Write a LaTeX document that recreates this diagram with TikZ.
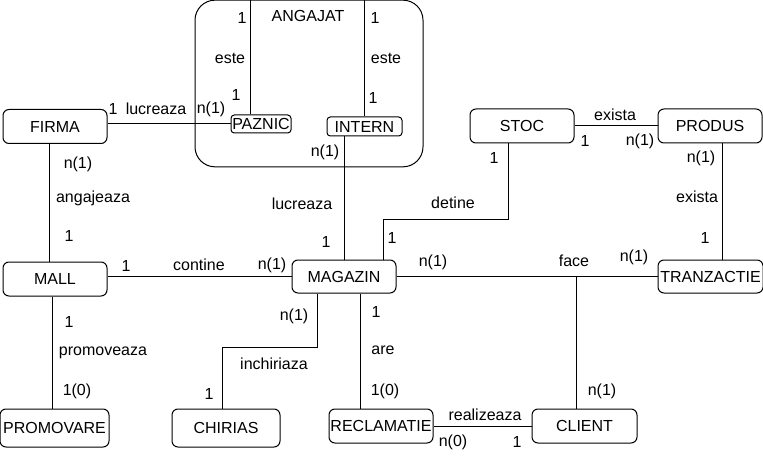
\documentclass[tikz,border=0pt]{standalone}
\usepackage{fontspec}
\setmainfont{Liberation Sans}
\usepackage{tikz}
\usetikzlibrary{calc}
\tikzset{every picture/.style={line width=0.75pt}}
\tikzset{
  ent/.style={draw, rounded corners=4.5pt, inner sep=0pt, minimum width=78pt, minimum height=25.5pt, font=\fontsize{12}{14}\selectfont},
  sub/.style={draw, rounded corners=2.5pt, inner sep=0pt, font=\fontsize{12}{14}\selectfont},
  lbl/.style={inner sep=0.75pt, font=\fontsize{12}{14}\selectfont}
}

\begin{document}
\begin{tikzpicture}[x=0.75pt,y=0.75pt,yscale=-1,xscale=1]
\useasboundingbox (0,0) rectangle (763,456);

%Rounded Rect (ANGAJAT)
\node [draw, rounded corners=15pt, minimum width=171pt, minimum height=125pt] (angajat) at (309,83.5) {};
\node [sub, minimum width=45pt, minimum height=13.5pt] (paznic) at (261,124) {PAZNIC};
\node [sub, minimum width=56.25pt, minimum height=14.25pt] (intern) at (364.5,126.5) {INTERN};

%Rounded Rect
\node [ent] (firma) at (55,126.5) {FIRMA};
\node [ent] (stoc) at (522,126) {STOC};
\node [ent] (produs) at (710,126) {PRODUS};
\node [ent] (mall) at (55,279) {MALL};
\node [ent, minimum height=24.75pt] (magazin) at (344,276.5) {MAGAZIN};
\node [ent, minimum width=78.75pt, minimum height=24.75pt] (tranzactie) at (710.5,276.5) {TRANZACTIE};
\node [ent, minimum width=81.75pt, minimum height=28.5pt] (promovare) at (54.5,428) {PROMOVARE};
\node [ent, minimum width=81pt, minimum height=28.5pt] (chirias) at (226,428) {CHIRIAS};
\node [ent] (reclamatie) at (381,426) {RECLAMATIE};
\node [ent, minimum width=78.75pt] (client) at (584.5,426) {CLIENT};

\coordinate (detine) at (383,219);
\coordinate (inchir) at (222,347);
\coordinate (face) at ([xshift=-6.375pt]client.north |- magazin.east);

%Straight Lines
\draw ([xshift=-8.25pt]paznic.north) -- ([xshift=-8.25pt]paznic.north |- angajat.north);
\draw (intern.north) -- (intern.north |- angajat.north);
\draw (paznic.west) -- (paznic.west -| firma.east);
\draw (magazin.north) -- (magazin.north |- intern.south);
\draw ([xshift=-10.5pt]stoc.south) |- (detine) -- (detine |- magazin.north);
\draw (stoc.east) -- (produs.west);
\draw ([xshift=9pt]produs.south) -- ([xshift=9pt]produs.south |- tranzactie.north);
\draw (magazin.east) -- (tranzactie.west);
\draw (face) -- (face |- client.north);
\draw ([xshift=-4.5pt]firma.south) -- ([xshift=-4.5pt]firma.south |- mall.north);
\draw (magazin.west) -- (magazin.west -| mall.east);
\draw ([xshift=-2.25pt]mall.south) -- ([xshift=-2.25pt]mall.south |- promovare.north);
\draw ([xshift=-20.25pt]magazin.south) |- (inchir) -- (inchir |- chirias.north);
\draw ([xshift=12pt]magazin.south) -- ([xshift=12pt]magazin.south |- reclamatie.north);
\draw (reclamatie.east) -- (client.west);

% Text Node
\node [lbl] (tAng) at (308,16) {ANGAJAT};
\node [lbl] (tPz1) at (242,18) {1};
\node [lbl] (tPzE) at (230,58) {este};
\node [lbl] (tPz2) at (236,95) {1};
\node [lbl] (tIn1) at (375,18) {1};
\node [lbl] (tInE) at (386,58) {este};
\node [lbl] (tIn2) at (373,98) {1};
\node [lbl] (tFp1) at (113,109) {1};
\node [lbl] (tFpL) at (156,109) {lucreaza};
\node [lbl] (tFp2) at (211,109) {n(1)};
\node [lbl] (tIm1) at (325,152) {n(1)};
\node [lbl] (tImL) at (302,204) {lucreaza};
\node [lbl] (tIm2) at (326,242) {1};
\node [lbl] (tFm1) at (78,164) {n(1)};
\node [lbl] (tFmL) at (93,198) {angajeaza};
\node [lbl] (tFm2) at (69,236) {1};
\node [lbl] (tSm1) at (494,158) {1};
\node [lbl] (tSmL) at (453,203) {detine};
\node [lbl] (tSm2) at (392,238) {1};
\node [lbl] (tSpL) at (615,115) {exista};
\node [lbl] (tSp1) at (585,141) {1};
\node [lbl] (tSp2) at (640,141) {n(1)};
\node [lbl] (tPt1) at (701,158) {n(1)};
\node [lbl] (tPtL) at (697,197) {exista};
\node [lbl] (tPt2) at (705,238) {1};
\node [lbl] (tMt1) at (433,262) {n(1)};
\node [lbl] (tMtL) at (574,261) {face};
\node [lbl] (tMt2) at (634,257) {n(1)};
\node [lbl] (tCl1) at (602,391) {n(1)};
\node [lbl] (tMm1) at (126,266) {1};
\node [lbl] (tMmL) at (199,265) {contine};
\node [lbl] (tMm2) at (272,265) {n(1)};
\node [lbl] (tMp1) at (69,322) {1};
\node [lbl] (tMpL) at (103,353) {promoveaza};
\node [lbl] (tMp2) at (77,391) {1(0)};
\node [lbl] (tMc1) at (294,316) {n(1)};
\node [lbl] (tMcL) at (274,364) {inchiriaza};
\node [lbl] (tMc2) at (209,394) {1};
\node [lbl] (tMr1) at (376,312) {1};
\node [lbl] (tMrL) at (383,350) {are};
\node [lbl] (tMr2) at (385,391) {1(0)};
\node [lbl] (tRcL) at (485,415) {realizeaza};
\node [lbl] (tRc1) at (453,442) {n(0)};
\node [lbl] (tRc2) at (517,442) {1};

\end{tikzpicture}
\end{document}
